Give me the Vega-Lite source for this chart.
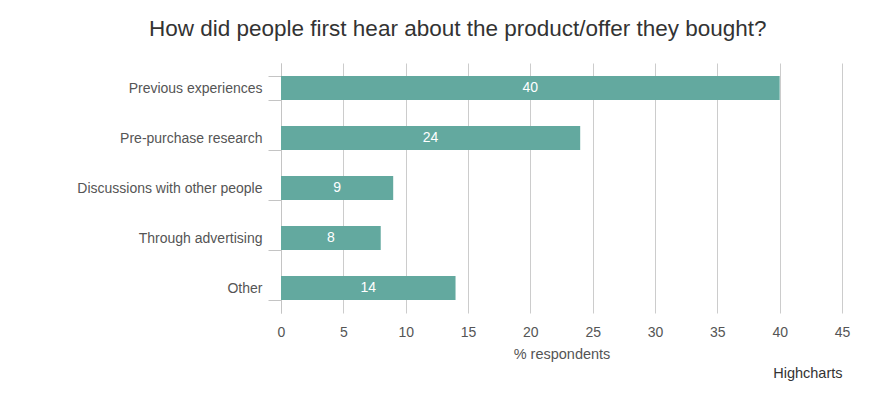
{
  "$schema": "https://vega.github.io/schema/vega-lite/v6.json",
  "width": 561,
  "height": 250,
  "autosize": {"type": "none"},
  "padding": {"left": 281, "top": 63, "right": 49, "bottom": 83},
  "background": "white",
  "config": {"view": {"stroke": null}},
  "title": {
    "text": "How did people first hear about the product/offer they bought?",
    "anchor": "start",
    "frame": "group",
    "dx": -132,
    "dy": 27,
    "offset": 25,
    "baseline": "alphabetic",
    "font": "Liberation Sans",
    "fontSize": 22.5,
    "fontWeight": "normal",
    "color": "#333333"
  },
  "data": {
    "values": [
      {"source": "Previous experiences", "value": 40},
      {"source": "Pre-purchase research", "value": 24},
      {"source": "Discussions with other people", "value": 9},
      {"source": "Through advertising", "value": 8},
      {"source": "Other", "value": 14}
    ]
  },
  "encoding": {
    "y": {
      "field": "source",
      "type": "nominal",
      "sort": null,
      "scale": {"paddingInner": 0.52, "paddingOuter": 0.26},
      "axis": {
        "title": null,
        "tickBand": "extent",
        "tickSize": 13,
        "tickColor": "#c4c4c4",
        "domainColor": "#c4c4c4",
        "labelPadding": 6,
        "labelLimit": 400,
        "labelFont": "Liberation Sans",
        "labelFontSize": 14,
        "labelColor": "#555555",
        "grid": false
      }
    }
  },
  "layer": [
    {
      "mark": {"type": "bar", "color": "#63a99f"},
      "encoding": {
        "x": {
          "field": "value",
          "type": "quantitative",
          "scale": {"domain": [0, 45], "nice": false},
          "axis": {
            "title": "% respondents",
            "values": [0, 5, 10, 15, 20, 25, 30, 35, 40, 45],
            "grid": true,
            "gridColor": "#cccccc",
            "domain": false,
            "ticks": false,
            "tickSize": 0,
            "labelFlush": false,
            "labelPadding": 12,
            "labelFont": "Liberation Sans",
            "labelFontSize": 14,
            "labelColor": "#555555",
            "titleFont": "Liberation Sans",
            "titleFontSize": 14.5,
            "titleFontWeight": "normal",
            "titleColor": "#555555",
            "titlePadding": 8
          }
        }
      }
    },
    {
      "mark": {
        "type": "text",
        "color": "#ffffff",
        "font": "Liberation Sans",
        "fontSize": 14,
        "baseline": "middle",
        "align": "center"
      },
      "encoding": {
        "x": {
          "field": "value",
          "type": "quantitative",
          "scale": {"domain": [0, 90], "nice": false},
          "axis": {
            "orient": "bottom",
            "offset": 49,
            "labels": false,
            "ticks": false,
            "domain": false,
            "grid": false,
            "title": "Highcharts",
            "titleAnchor": "end",
            "titleFont": "Liberation Sans",
            "titleFontSize": 14.5,
            "titleFontWeight": "normal",
            "titleColor": "#333333"
          }
        },
        "text": {"field": "value", "type": "quantitative"}
      }
    }
  ],
  "resolve": {"scale": {"x": "independent"}, "axis": {"x": "independent"}}
}
